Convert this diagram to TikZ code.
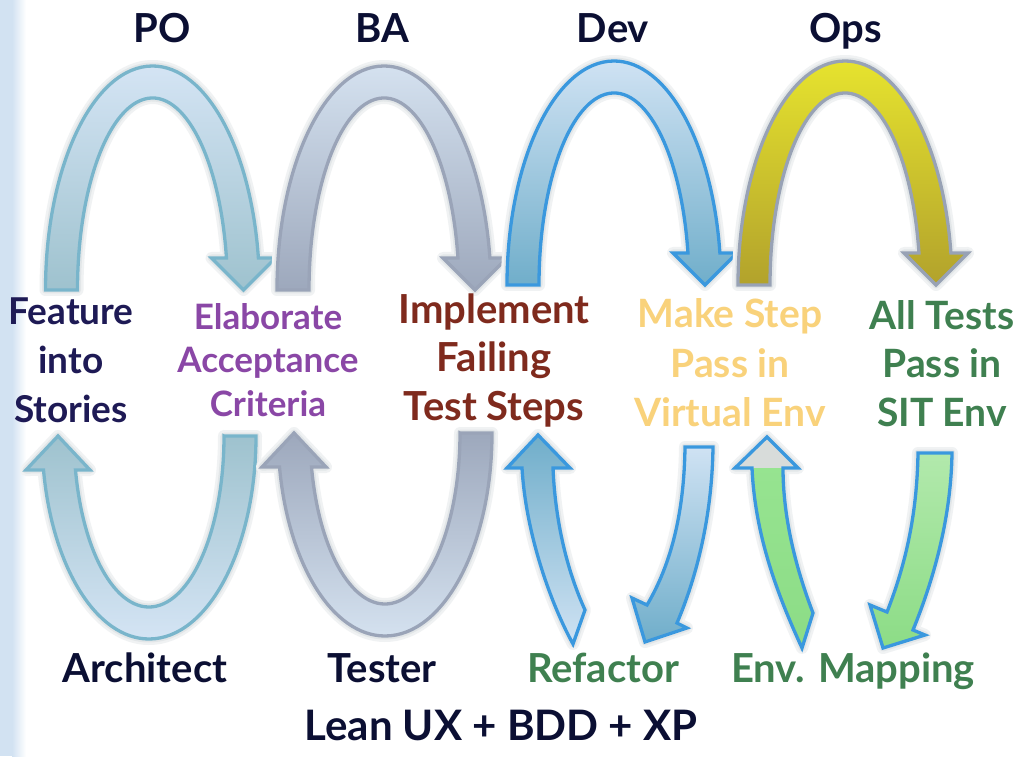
\documentclass[tikz,border=0pt]{standalone}
\usepackage{fontspec}
\setmainfont{Lato}
\definecolor{navy}{HTML}{0B0F33}
\definecolor{featc}{HTML}{1E1A55}
\definecolor{purp}{HTML}{8A47A6}
\definecolor{dred}{HTML}{7F2A1D}
\definecolor{yel}{HTML}{F9D27B}
\definecolor{grn}{HTML}{3F8050}
\definecolor{strip}{HTML}{D2E2F2}
\definecolor{haloa}{HTML}{F0F2F3}
\definecolor{halob}{HTML}{E2E6E8}
\definecolor{tealS}{HTML}{79B5CB}
\definecolor{grayS}{HTML}{9AA4B8}
\definecolor{blueS}{HTML}{3A98DE}
\definecolor{opsS}{HTML}{98A2B5}
\definecolor{aTop}{HTML}{D4E4F4}
\definecolor{aMid}{HTML}{C4D8E8}
\definecolor{aBot}{HTML}{9EC2CE}
\definecolor{bTop}{HTML}{D4E1EF}
\definecolor{bMid}{HTML}{C4CEDE}
\definecolor{bBot}{HTML}{9DA8BC}
\definecolor{cTop}{HTML}{CFE2F3}
\definecolor{cMid}{HTML}{BCD4E6}
\definecolor{cBot}{HTML}{70AECA}
\definecolor{dTop}{HTML}{E6E32E}
\definecolor{dMid}{HTML}{D2CB2E}
\definecolor{dBot}{HTML}{B2A22C}
\definecolor{greenA}{HTML}{98E592}
\definecolor{greenB}{HTML}{8CDC86}
\definecolor{greenL}{HTML}{B2E9AC}
\definecolor{headG}{HTML}{D8DCDA}
\newcommand\TopArcPath{(-107,0) arc[start angle=180,end angle=8.21,x radius=107,y radius=224] -- (123,32) -- (91,0) -- (59,32) -- (73.95,32) arc[start angle=9.59,end angle=180,x radius=75,y radius=192] -- cycle}
\newcommand\BotArcPath{(75,0) -- (107,0) arc[start angle=0,end angle=-170.36,x radius=107,y radius=203] -- (-123,-34) -- (-91,0) -- (-59,-34) -- (-73.5,-34) arc[start angle=-168.53,end angle=0,x radius=75,y radius=171] -- cycle}
\newcommand\ROnePath{(522,288) .. controls (526,220) and (552,150) .. (573,112) -- (585,146) .. controls (565,190) and (555,240) .. (553,288) -- (570,288) -- (538,321) -- (507,288) -- cycle}
\newcommand\RTwoPath{(685,309) .. controls (684,240) and (670,190) .. (647,151) -- (632,158) -- (645,114) -- (687,128) -- (677,133) .. controls (697,180) and (712,240) .. (713,309) -- cycle}
\newcommand\RThreePath{(752,288) .. controls (755,220) and (778,160) .. (802,108) -- (813,143) .. controls (795,190) and (783,240) .. (783,288) -- (798,288) -- (767,319) -- (735,288) -- cycle}
\newcommand\RFourPath{(918,303) .. controls (917,240) and (905,190) .. (887,144) -- (870,151) -- (883,108) -- (925,121) -- (913,126) .. controls (935,180) and (951,240) .. (952,303) -- cycle}
\tikzset{
  haloone/.style={draw=haloa, line width=12pt, line join=round},
  halotwo/.style={draw=halob, line width=7pt, line join=round},
  band/.style={line width=3.3pt, line join=miter},
  role/.style={font=\bfseries\fontsize{40}{47}\selectfont, text=navy, inner sep=0pt, anchor=base},
  lbl/.style={font=\bfseries, inner sep=0pt, align=center, anchor=center},
}
\begin{document}
\begin{tikzpicture}[x=1pt,y=1pt]
\useasboundingbox (0,0) rectangle (1016,756);
\fill[white] (0,0) rectangle (1016,756);
\fill[strip] (0,0) rectangle (12,756);
\shade[left color=strip,right color=white] (12,0) rectangle (26,756);

% top arcs
\foreach \cx/\cy/\S/\T/\M/\B in {152.5/466/tealS/aTop/aMid/aBot, 384/466/grayS/bTop/bMid/bBot, 614/471/blueS/cTop/cMid/cBot, 845/471/opsS/dTop/dMid/dBot}{
  \begin{scope}[shift={(\cx,\cy)}]
    \draw[haloone] \TopArcPath;
    \draw[halotwo] \TopArcPath;
    \draw[band, draw=\S, top color=\T, middle color=\M, bottom color=\B] \TopArcPath;
  \end{scope}
}
% bottom arcs
\foreach \cx/\cy/\S/\T/\M/\B in {149/320/tealS/aBot/aMid/aTop, 385/323/grayS/bBot/bMid/bTop}{
  \begin{scope}[shift={(\cx,\cy)}]
    \draw[haloone] \BotArcPath;
    \draw[halotwo] \BotArcPath;
    \draw[band, draw=\S, top color=\T, middle color=\M, bottom color=\B] \BotArcPath;
  \end{scope}
}
% bottom right arrows
\draw[haloone] \ROnePath; \draw[halotwo] \ROnePath;
\draw[band, draw=blueS, top color=cBot, middle color=aBot!60!cTop, bottom color=cTop] \ROnePath;
\draw[haloone] \RTwoPath; \draw[halotwo] \RTwoPath;
\draw[band, draw=blueS, top color=cTop, middle color=aBot!60!cTop, bottom color=cBot] \RTwoPath;
\draw[haloone] \RThreePath; \draw[halotwo] \RThreePath;
\fill[top color=greenA, bottom color=greenB] \RThreePath;
\begin{scope}\clip \RThreePath; \fill[headG] (720,288) rectangle (815,330);\end{scope}
\draw[band, draw=blueS] \RThreePath;
\draw[haloone] \RFourPath; \draw[halotwo] \RFourPath;
\draw[band, draw=blueS, top color=greenL, bottom color=greenB] \RFourPath;

% role labels
\node[role] (po) at (162,713) {PO};
\node[role] (ba) at (382,713) {BA};
\node[role] (dev) at (613,713) {Dev};
\node[role] (ops) at (846,713) {Ops};
\node[role] (arch) at (145,74) {Architect};
\node[role] (tester) at (382,74) {Tester};
\node[role, text=grn] (refac) at (603,74) {Refactor};
\node[role, text=grn] (envmap) at (853,74) {Env. Mapping};
\node[role, font=\bfseries\fontsize{42}{47}\selectfont] (lean) at (501,16) {Lean UX + BDD + XP};

% step labels
\node[lbl, text=featc, font=\bfseries\fontsize{37}{49}\selectfont] (feat) at (71,396) {Feature\\into\\Stories};
\node[lbl, text=purp, font=\bfseries\fontsize{35}{43.5}\selectfont] (elab) at (268,396) {Elaborate\\Acceptance\\Criteria};
\node[lbl, text=dred, font=\bfseries\fontsize{40}{48.5}\selectfont] (impl) at (494,396) {Implement\\Failing\\Test Steps};
\node[lbl, text=yel, font=\bfseries\fontsize{39}{49.5}\selectfont] (make) at (730,393) {Make Step\\Pass in\\Virtual Env};
\node[lbl, text=grn, font=\bfseries\fontsize{39}{48.5}\selectfont] (allt) at (942,392.5) {All Tests\\Pass in\\SIT Env};
\end{tikzpicture}
\end{document}
